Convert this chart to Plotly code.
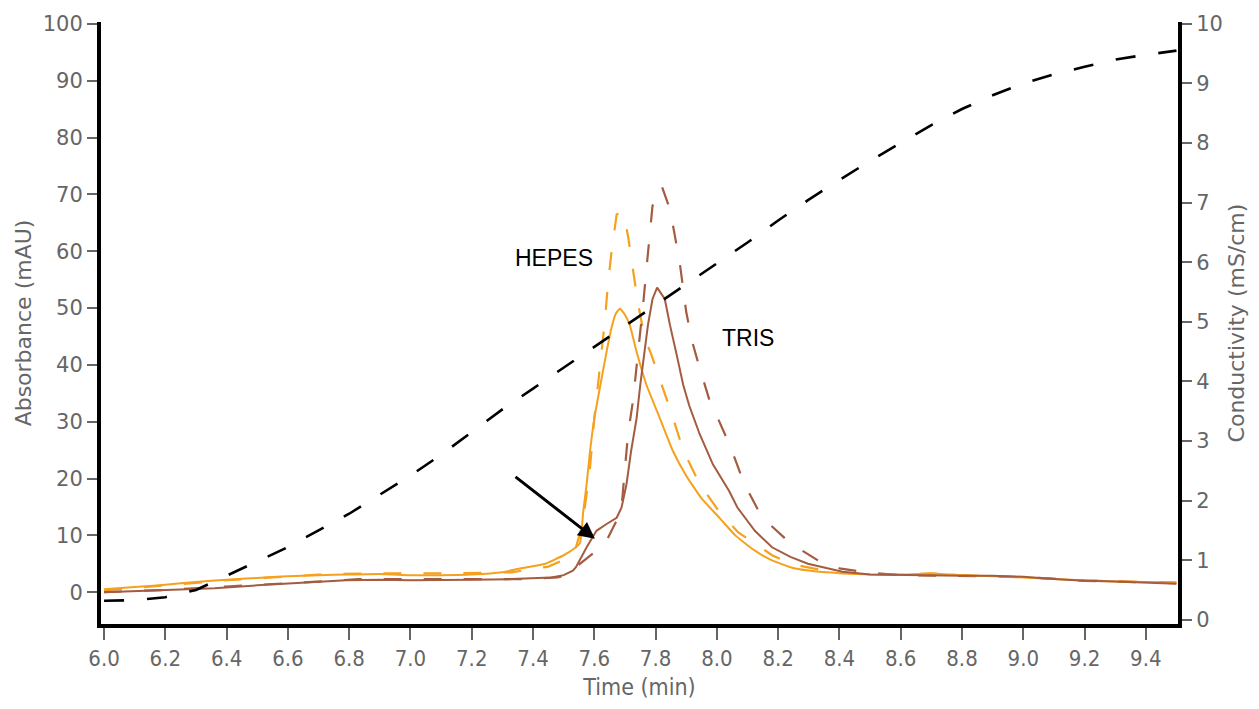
import plotly.graph_objects as go

# ---------------- data ----------------
cond_time = [6.0, 6.1, 6.2, 6.3, 6.4, 6.5, 6.6, 6.7, 6.8, 6.9, 7.0, 7.1, 7.2, 7.3,
             7.4, 7.5, 7.6, 7.7, 7.8, 7.9, 8.0, 8.1, 8.2, 8.3, 8.4, 8.5, 8.6, 8.7,
             8.8, 8.9, 9.0, 9.1, 9.2, 9.3, 9.4, 9.5]
conductivity = [0.32, 0.33, 0.38, 0.5, 0.74, 0.98, 1.22, 1.5, 1.78, 2.1, 2.42, 2.77,
                3.15, 3.53, 3.88, 4.23, 4.58, 4.93, 5.28, 5.63, 5.98, 6.33, 6.7, 7.05,
                7.38, 7.7, 8.0, 8.3, 8.57, 8.8, 9.0, 9.15, 9.28, 9.4, 9.48, 9.55]

hepes_time = [6.0, 6.1, 6.2, 6.3, 6.4, 6.5, 6.6, 6.7, 6.8, 6.9, 7.0, 7.1, 7.2, 7.3,
              7.36, 7.44, 7.5, 7.53, 7.553, 7.564, 7.575, 7.586, 7.6, 7.62, 7.64,
              7.656, 7.67, 7.683, 7.698, 7.716, 7.738, 7.77, 7.814, 7.857, 7.9, 7.95,
              8.01, 8.06, 8.124, 8.18, 8.24, 8.3, 8.41, 8.5, 8.6, 8.7, 8.8, 8.9, 9.0,
              9.1, 9.2, 9.3, 9.4, 9.5]
hepes_abs = [0.5, 0.9, 1.3, 1.8, 2.2, 2.5, 2.8, 3.0, 3.1, 3.2, 3.0, 3.0, 3.1, 3.5,
             4.2, 5.0, 6.5, 7.5, 8.6, 14.3, 19.0, 24.8, 30.6, 36.5, 42.3,
             46.5, 49.0, 49.9, 49.0, 47.0, 42.3, 36.5, 30.6, 24.8, 20.5, 16.5,
             13.0, 10.0, 7.3, 5.6, 4.4, 3.8, 3.3, 3.1, 3.1, 3.3, 3.0, 2.8, 2.6,
             2.3, 2.1, 1.9, 1.8, 1.7]

hepes_ref_time = [6.0, 6.2, 6.4, 6.55, 6.7, 6.85, 7.0, 7.12, 7.33, 7.45, 7.51, 7.537,
                  7.553, 7.569, 7.586, 7.6, 7.612, 7.624, 7.635, 7.644, 7.656, 7.673,
                  7.695, 7.71, 7.726, 7.742, 7.765, 7.785, 7.82, 7.852, 7.89, 7.944,
                  8.01, 8.07, 8.124, 8.18, 8.24, 8.35, 8.45, 8.6, 8.7, 8.8, 9.0, 9.2,
                  9.4, 9.5]
hepes_ref_abs = [0.3, 1.2, 2.1, 2.6, 3.1, 3.3, 3.3, 3.3, 3.5, 4.5, 5.9, 7.3,
                 10.3, 14.9, 21.9, 30.6, 36.5, 42.3, 48.0, 54.0, 59.8, 66.5,
                 66.8, 62.7, 56.8, 51.0, 44.6, 42.0, 36.5, 31.5, 25.0, 19.0,
                 14.0, 10.5, 8.6, 6.5, 5.0, 3.8, 3.3, 3.1, 3.3, 3.0, 2.6, 2.1,
                 1.8, 1.7]

tris_time = [6.0, 6.2, 6.36, 6.5, 6.6, 6.79, 6.9, 7.0, 7.2, 7.33, 7.46, 7.5, 7.53,
             7.54, 7.575, 7.607, 7.64, 7.673, 7.689, 7.705, 7.72, 7.738, 7.75, 7.76,
             7.775, 7.79, 7.805, 7.83, 7.847, 7.87, 7.89, 7.91, 7.944, 7.987, 8.04,
             8.067, 8.124, 8.18, 8.24, 8.297, 8.41, 8.5, 8.6, 8.7, 8.8, 8.9, 9.0,
             9.1, 9.2, 9.3, 9.4, 9.5]
tris_abs = [0.0, 0.4, 0.7, 1.2, 1.5, 2.1, 2.2, 2.1, 2.2, 2.3, 2.6, 3.0, 3.8,
            4.4, 7.9, 10.8, 12.0, 13.1, 14.9, 19.0, 24.8, 30.6, 36.5, 41.0,
            47.0, 51.6, 53.6, 51.6, 47.0, 41.5, 36.5, 32.8, 27.8, 22.5, 17.8,
            14.9, 10.8, 7.9, 6.2, 5.0, 3.6, 3.1, 3.0, 3.0, 2.9, 2.9, 2.7,
            2.3, 2.0, 1.9, 1.7, 1.5]

tris_ref_time = [6.0, 6.2, 6.4, 6.55, 6.68, 6.83, 7.0, 7.12, 7.38, 7.48, 7.53, 7.553,
                 7.607, 7.64, 7.673, 7.69, 7.7, 7.71, 7.726, 7.738, 7.75, 7.76, 7.77,
                 7.78, 7.79, 7.82, 7.847, 7.863, 7.88, 7.9, 7.92, 7.944, 7.977, 8.0,
                 8.045, 8.09, 8.147, 8.24, 8.33, 8.4, 8.5, 8.6, 8.7, 8.8, 9.0, 9.2,
                 9.4, 9.5]
tris_ref_abs = [0.0, 0.4, 1.0, 1.4, 1.8, 2.3, 2.3, 2.3, 2.3, 2.6, 3.3, 5.0,
                7.3, 9.1, 12.6, 15.6, 21.9, 27.8, 33.6, 39.4, 45.3, 51.0, 56.8,
                62.7, 68.0, 71.5, 67.4, 62.7, 57.5, 49.3, 44.0, 39.4, 33.6, 31.0,
                25.5, 19.0, 13.2, 8.6, 5.6, 4.2, 3.4, 3.0, 2.9, 2.9, 2.7, 2.0,
                1.7, 1.6]

x_ticks = [6.0, 6.2, 6.4, 6.6, 6.8, 7.0, 7.2, 7.4, 7.6, 7.8, 8.0, 8.2, 8.4, 8.6,
           8.8, 9.0, 9.2, 9.4]
y_ticks = [0, 10, 20, 30, 40, 50, 60, 70, 80, 90, 100]
y2_ticks = [0, 1, 2, 3, 4, 5, 6, 7, 8, 9, 10]

# ---------------- styling ----------------
ORANGE = "#F6A11E"
BROWN = "#A45C40"
GREY = "#666666"
NARROW = "Liberation Sans Narrow, DejaVu Sans Condensed, sans-serif"

fig = go.Figure()

fig.add_trace(go.Scatter(x=cond_time, y=conductivity, yaxis="y2", mode="lines",
                         line=dict(color="black", width=2.6, dash="20px,23px"),
                         showlegend=False))
fig.add_trace(go.Scatter(x=hepes_ref_time, y=hepes_ref_abs, mode="lines",
                         line=dict(color=ORANGE, width=2.2, dash="18px,22px"),
                         showlegend=False))
fig.add_trace(go.Scatter(x=tris_ref_time, y=tris_ref_abs, mode="lines",
                         line=dict(color=BROWN, width=2.2, dash="18px,22px"),
                         showlegend=False))
fig.add_trace(go.Scatter(x=hepes_time, y=hepes_abs, mode="lines",
                         line=dict(color=ORANGE, width=2, shape="spline", smoothing=0.4),
                         showlegend=False))
fig.add_trace(go.Scatter(x=tris_time, y=tris_abs, mode="lines",
                         line=dict(color=BROWN, width=2), showlegend=False))

fig.add_annotation(x=7.468, y=58.9, text="HEPES", showarrow=False,
                   font=dict(family="Liberation Sans, Arial", size=23, color="black"))
fig.add_annotation(x=8.103, y=44.8, text="TRIS", showarrow=False,
                   font=dict(family="Liberation Sans, Arial", size=23, color="black"))
fig.add_annotation(x=7.602, y=9.4, ax=7.338, ay=20.5, axref="x", ayref="y",
                   xref="x", yref="y", text="", showarrow=True, arrowhead=2,
                   arrowsize=1.1, arrowwidth=3, arrowcolor="black", standoff=0)

fig.update_layout(
    width=1259, height=709,
    margin=dict(l=101, r=81, t=18, b=85),
    paper_bgcolor="white", plot_bgcolor="white",
    font=dict(family="DejaVu Sans", color=GREY),
    xaxis=dict(range=[5.99, 9.505], tickvals=x_ticks,
               ticktext=[f"{v:.1f}" for v in x_ticks],
               showgrid=False, zeroline=False, showline=True, linecolor="black",
               linewidth=4, ticks="outside", ticklen=12, tickwidth=1.5,
               tickcolor=GREY,
               tickfont=dict(family=NARROW, size=22, color=GREY),
               title=dict(text="Time (min)", standoff=9,
                          font=dict(family=NARROW, size=23, color=GREY))),
    yaxis=dict(range=[-5.6, 100.35], tickvals=y_ticks, showgrid=False,
               zeroline=False, showline=True, linecolor="black", linewidth=4,
               ticks="outside", ticklen=10, tickwidth=1.5, tickcolor=GREY,
               tickfont=dict(family="DejaVu Sans", size=21, color=GREY),
               title=dict(text="Absorbance (mAU)", standoff=6,
                          font=dict(family="DejaVu Sans", size=22, color=GREY))),
    yaxis2=dict(range=[-0.07, 10.03], tickvals=y2_ticks, overlaying="y",
                side="right", showgrid=False, zeroline=False, showline=True,
                linecolor="black", linewidth=4, ticks="outside", ticklen=10,
                tickwidth=1.5, tickcolor=GREY,
                tickfont=dict(family="DejaVu Sans", size=21, color=GREY),
                title=dict(text="Conductivity (mS/cm)", standoff=8,
                           font=dict(family="DejaVu Sans", size=22, color=GREY))),
)

fig.write_html("out.html")
